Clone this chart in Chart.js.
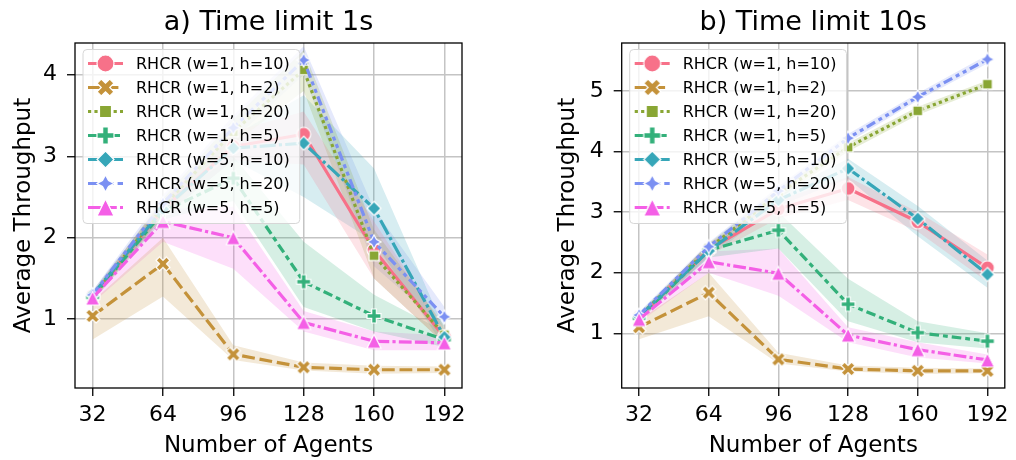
<!DOCTYPE html>
<html>
<head>
<meta charset="utf-8">
<script src="https://cdn.jsdelivr.net/npm/chart.js@4.4.0/dist/chart.umd.min.js"></script>
<style>
  html, body { margin: 0; padding: 0; background: #fff; }
  #wrap { position: relative; width: 1016px; height: 460px; }
  canvas { position: absolute; top: 0; }
</style>
</head>
<body>
<div id="wrap">
  <canvas id="c1" width="540" height="460" style="left:0"></canvas>
  <canvas id="c2" width="476" height="460" style="left:540px"></canvas>
</div>
<script>
// data
const agents = [32, 64, 96, 128, 160, 192];
const seriesNames = ['RHCR (w=1, h=10)', 'RHCR (w=1, h=2)', 'RHCR (w=1, h=20)', 'RHCR (w=1, h=5)',
                     'RHCR (w=5, h=10)', 'RHCR (w=5, h=20)', 'RHCR (w=5, h=5)'];
const yTicks1s = [1, 2, 3, 4];
const yTicks10s = [1, 2, 3, 4, 5];

// time limit 1s: means and confidence band
const t1_w1h10 = [1.28, 2.35, 3.12, 3.27, 1.85, 0.78];
const t1_w1h10_lo = [1.22, 2.25, 2.95, 2.90, 1.50, 0.70];
const t1_w1h10_hi = [1.34, 2.45, 3.30, 3.55, 2.20, 0.88];
const t1_w1h2 = [1.04, 1.68, 0.57, 0.41, 0.38, 0.38];
const t1_w1h2_lo = [0.75, 1.28, 0.50, 0.37, 0.33, 0.34];
const t1_w1h2_hi = [1.22, 2.00, 0.68, 0.47, 0.43, 0.42];
const t1_w1h20 = [1.27, 2.38, 3.30, 4.06, 1.78, 0.81];
const t1_w1h20_lo = [1.22, 2.28, 3.15, 3.80, 1.50, 0.70];
const t1_w1h20_hi = [1.32, 2.48, 3.45, 4.30, 2.10, 0.92];
const t1_w1h5 = [1.27, 2.32, 2.73, 1.46, 1.04, 0.75];
const t1_w1h5_lo = [1.22, 2.22, 2.45, 1.15, 0.85, 0.66];
const t1_w1h5_hi = [1.32, 2.42, 3.00, 1.95, 1.30, 0.85];
const t1_w5h10 = [1.30, 2.35, 3.10, 3.16, 2.36, 0.78];
const t1_w5h10_lo = [1.25, 2.25, 2.95, 2.50, 1.95, 0.66];
const t1_w5h10_hi = [1.35, 2.45, 3.25, 3.75, 2.85, 0.88];
const t1_w5h20 = [1.30, 2.42, 3.35, 4.18, 1.95, 1.03];
const t1_w5h20_lo = [1.25, 2.32, 3.20, 4.00, 1.65, 0.90];
const t1_w5h20_hi = [1.35, 2.52, 3.50, 4.35, 2.35, 1.15];
const t1_w5h5 = [1.26, 2.20, 2.00, 0.96, 0.73, 0.71];
const t1_w5h5_lo = [1.20, 1.95, 1.62, 0.85, 0.62, 0.62];
const t1_w5h5_hi = [1.32, 2.35, 2.38, 1.10, 0.85, 0.80];

// time limit 10s
const t10_w1h10 = [1.27, 2.38, 3.05, 3.39, 2.84, 2.08];
const t10_w1h10_lo = [1.22, 2.28, 2.90, 3.20, 2.68, 1.85];
const t10_w1h10_hi = [1.32, 2.48, 3.20, 3.58, 3.00, 2.30];
const t10_w1h2 = [1.10, 1.67, 0.57, 0.41, 0.38, 0.38];
const t10_w1h2_lo = [0.90, 1.28, 0.50, 0.37, 0.33, 0.34];
const t10_w1h2_hi = [1.22, 2.00, 0.68, 0.47, 0.43, 0.42];
const t10_w1h20 = [1.27, 2.40, 3.30, 4.07, 4.67, 5.11];
const t10_w1h20_lo = [1.22, 2.32, 3.22, 4.00, 4.60, 5.05];
const t10_w1h20_hi = [1.32, 2.48, 3.38, 4.14, 4.74, 5.17];
const t10_w1h5 = [1.25, 2.37, 2.70, 1.48, 1.01, 0.87];
const t10_w1h5_lo = [1.20, 2.25, 2.40, 1.20, 0.85, 0.75];
const t10_w1h5_hi = [1.30, 2.48, 3.00, 1.90, 1.20, 1.00];
const t10_w5h10 = [1.28, 2.36, 3.20, 3.72, 2.89, 1.97];
const t10_w5h10_lo = [1.22, 2.26, 3.10, 3.55, 2.60, 1.75];
const t10_w5h10_hi = [1.34, 2.46, 3.30, 3.88, 3.10, 2.20];
const t10_w5h20 = [1.30, 2.43, 3.35, 4.22, 4.90, 5.52];
const t10_w5h20_lo = [1.25, 2.35, 3.28, 4.15, 4.84, 5.45];
const t10_w5h20_hi = [1.35, 2.50, 3.42, 4.29, 4.96, 5.59];
const t10_w5h5 = [1.23, 2.18, 1.99, 0.97, 0.73, 0.56];
const t10_w5h5_lo = [1.18, 2.00, 1.62, 0.85, 0.60, 0.50];
const t10_w5h5_hi = [1.28, 2.35, 2.40, 1.10, 0.85, 0.65];

// style
const FONT = 'DejaVu Sans';
const colors = ['#f77189', '#c4923a', '#89a634', '#33b07a', '#36a6b8', '#7b90f2', '#f45fe6'];
const shapes = ['circle', 'x', 'square', 'plus', 'diamond', 'star', 'triangle'];
const LW = 3.2;
const dashes = [[], [4, 1.5], [1, 1], [3, 1.25, 1.5, 1.25], [5, 1, 1, 1],
                [3, 1.25, 1.25, 1.25, 1.25, 1.25], [4, 1, 4, 1, 1, 1]].map(d => d.map(v => v * LW));

function makeMarker(shape, color, ms) {
  const sz = Math.ceil(ms + 6);
  const c = document.createElement('canvas');
  c.width = sz; c.height = sz;
  const ctx = c.getContext('2d');
  ctx.translate(sz / 2, sz / 2);
  ctx.beginPath();
  const poly = (pts, k) => { pts.forEach((p, i) => i ? ctx.lineTo(p[0] * k, -p[1] * k) : ctx.moveTo(p[0] * k, -p[1] * k)); ctx.closePath(); };
  const q = 0.354;
  if (shape === 'circle') ctx.arc(0, 0, ms / 2, 0, Math.PI * 2);
  if (shape === 'x') poly([[-1,-2],[0,-1],[1,-2],[2,-1],[1,0],[2,1],[1,2],[0,1],[-1,2],[-2,1],[-1,0],[-2,-1]], ms / 4);
  if (shape === 'plus') poly([[-1,-3],[1,-3],[1,-1],[3,-1],[3,1],[1,1],[1,3],[-1,3],[-1,1],[-3,1],[-3,-1],[-1,-1]], ms / 6);
  if (shape === 'square') { const h = ms * 0.5 / Math.SQRT2; poly([[-h,-h],[h,-h],[h,h],[-h,h]], 1); }
  if (shape === 'diamond') poly([[0,1],[1,0],[0,-1],[-1,0]], ms / 2);
  if (shape === 'star') poly([[0,1],[q,q],[1,0],[q,-q],[0,-1],[-q,-q],[-1,0],[-q,q]], ms / 2);
  if (shape === 'triangle') poly([[0,1],[-1,-1],[1,-1]], ms / 2);
  ctx.fillStyle = color;
  ctx.fill();
  ctx.strokeStyle = '#fff';
  ctx.lineWidth = 1.2;
  ctx.lineJoin = 'miter';
  ctx.stroke();
  return c;
}
const markers = shapes.map((s, i) => makeMarker(s, colors[i], 14));
const legendMarkers = shapes.map((s, i) => makeMarker(s, colors[i], 17));

function alpha(hex, a) {
  const n = parseInt(hex.slice(1), 16);
  return `rgba(${n >> 16}, ${(n >> 8) & 255}, ${n & 255}, ${a})`;
}

function buildDatasets(means, los, his) {
  const ds = [];
  means.forEach((m, i) => {
    ds.push({ data: los[i], borderColor: 'rgba(0,0,0,0)', borderWidth: 0, pointRadius: 0, fill: false, order: 100 });
    ds.push({ data: his[i], borderColor: 'rgba(0,0,0,0)', borderWidth: 0, pointRadius: 0, fill: '-1',
              backgroundColor: alpha(colors[i], 0.2), order: 100 });
    ds.push({ label: seriesNames[i], data: m, borderColor: colors[i], borderWidth: LW, borderDash: dashes[i],
              borderJoinStyle: 'round', pointStyle: markers[i], pointRadius: 8, fill: false, order: 20 - i });
  });
  return ds;
}

const framePlugin = {
  id: 'frameAndLegend',
  afterDatasetsDraw(chart) {
    const ctx = chart.ctx, a = chart.chartArea;
    ctx.save();
    ctx.strokeStyle = '#000';
    ctx.lineWidth = 1.3;
    ctx.strokeRect(a.left, a.top, a.right - a.left, a.bottom - a.top);

    // legend box, upper left
    ctx.font = `16px "${FONT}"`;
    const tw = Math.max(...seriesNames.map(n => ctx.measureText(n).width));
    const bx = a.left + 8, by = a.top + 6.5, bw = 53 + tw + 10, bh = 174, r = 4;
    ctx.beginPath();
    ctx.moveTo(bx + r, by);
    ctx.arcTo(bx + bw, by, bx + bw, by + bh, r);
    ctx.arcTo(bx + bw, by + bh, bx, by + bh, r);
    ctx.arcTo(bx, by + bh, bx, by, r);
    ctx.arcTo(bx, by, bx + bw, by, r);
    ctx.closePath();
    ctx.fillStyle = 'rgba(255,255,255,0.8)';
    ctx.fill();
    ctx.strokeStyle = '#d6d6d6';
    ctx.lineWidth = 1;
    ctx.stroke();

    seriesNames.forEach((name, i) => {
      const y = by + 14 + i * 24;
      ctx.beginPath();
      ctx.setLineDash(dashes[i]);
      ctx.strokeStyle = colors[i];
      ctx.lineWidth = LW;
      ctx.moveTo(bx + 5, y);
      ctx.lineTo(bx + 40, y);
      ctx.stroke();
      ctx.setLineDash([]);
      const m = legendMarkers[i];
      ctx.drawImage(m, bx + 22.5 - m.width / 2, y - m.height / 2);
      ctx.fillStyle = '#000';
      ctx.textBaseline = 'middle';
      ctx.textAlign = 'left';
      ctx.fillText(name, bx + 53, y + 1);
    });
    ctx.restore();
  }
};

function makeChart(id, title, means, los, his, yMin, yMax, yTicks, yAxisWidth, rightPad, yTitlePad) {
  return new Chart(document.getElementById(id), {
    type: 'line',
    data: { datasets: buildDatasets(means, los, his).map(d => Object.assign(d, { data: d.data.map((v, j) => ({ x: agents[j], y: v })) })) },
    options: {
      responsive: false,
      animation: false,
      events: [],
      layout: { padding: { left: 0, right: rightPad, top: 0, bottom: 0 } },
      elements: { line: { tension: 0 } },
      scales: {
        x: {
          type: 'linear', min: 24, max: 200,
          afterBuildTicks: s => { s.ticks = agents.map(v => ({ value: v })); },
          afterFit: s => { s.height = 72; },
          grid: { color: '#c4c4c4', lineWidth: 1.5, tickColor: '#000', tickLength: 8, tickWidth: 1.3 },
          border: { display: false },
          ticks: { font: { family: FONT, size: 22 }, color: '#000', padding: 6.5, maxRotation: 0 },
          title: { display: true, text: 'Number of Agents', font: { family: FONT, size: 23 }, color: '#000', padding: { top: 0, bottom: 0 } }
        },
        y: {
          type: 'linear', min: yMin, max: yMax,
          afterBuildTicks: s => { s.ticks = yTicks.map(v => ({ value: v })); },
          afterFit: s => { s.width = yAxisWidth; },
          grid: { color: '#c4c4c4', lineWidth: 1.5, tickColor: '#000', tickLength: 8, tickWidth: 1.3 },
          border: { display: false },
          ticks: { font: { family: FONT, size: 22 }, color: '#000', padding: 10 },
          title: { display: true, text: 'Average Throughput', font: { family: FONT, size: 23 }, color: '#000', padding: { top: yTitlePad, bottom: 0 } }
        }
      },
      plugins: {
        legend: { display: false },
        tooltip: { enabled: false },
        title: { display: true, text: title, fullSize: false, color: '#000',
                 font: { family: FONT, size: 27, weight: 'normal' }, padding: { top: 6.3, bottom: 4.3 } }
      }
    },
    plugins: [framePlugin]
  });
}

makeChart('c1', 'a) Time limit 1s',
  [t1_w1h10, t1_w1h2, t1_w1h20, t1_w1h5, t1_w5h10, t1_w5h20, t1_w5h5],
  [t1_w1h10_lo, t1_w1h2_lo, t1_w1h20_lo, t1_w1h5_lo, t1_w5h10_lo, t1_w5h20_lo, t1_w5h5_lo],
  [t1_w1h10_hi, t1_w1h2_hi, t1_w1h20_hi, t1_w1h5_hi, t1_w5h10_hi, t1_w5h20_hi, t1_w5h5_hi],
  0.156, 4.39, yTicks1s, 75, 78, 10);

makeChart('c2', 'b) Time limit 10s',
  [t10_w1h10, t10_w1h2, t10_w1h20, t10_w1h5, t10_w5h10, t10_w5h20, t10_w5h5],
  [t10_w1h10_lo, t10_w1h2_lo, t10_w1h20_lo, t10_w1h5_lo, t10_w5h10_lo, t10_w5h20_lo, t10_w5h5_lo],
  [t10_w1h10_hi, t10_w1h2_hi, t10_w1h20_hi, t10_w1h5_hi, t10_w5h10_hi, t10_w5h20_hi, t10_w5h5_hi],
  0.097, 5.79, yTicks10s, 81.7, 11, 14);
</script>
</body>
</html>
